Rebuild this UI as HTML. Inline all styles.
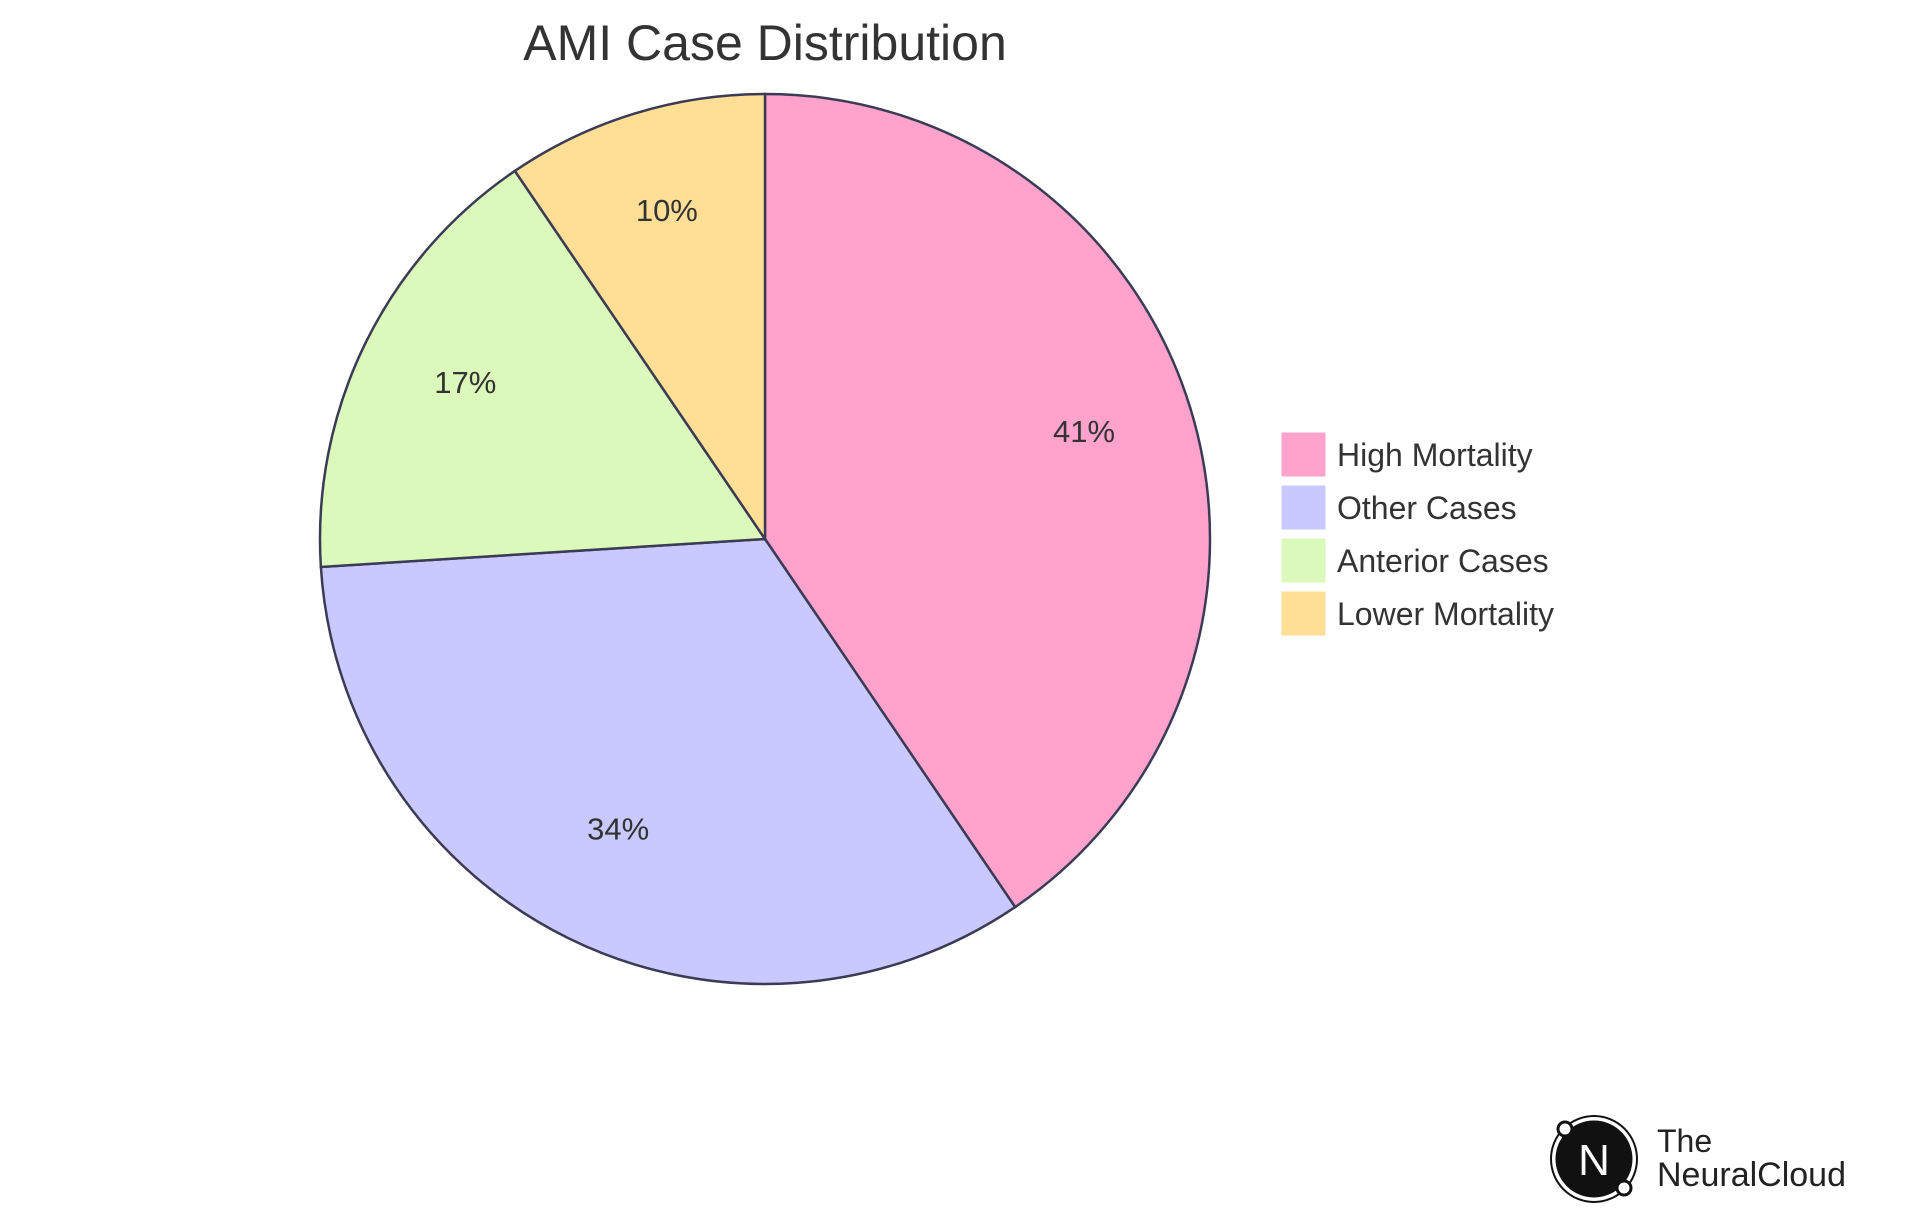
<!DOCTYPE html>
<html><head><meta charset="utf-8"><style>
html,body{margin:0;padding:0;background:#fff;}
body{width:1920px;height:1215px;overflow:hidden;font-family:"Liberation Sans",sans-serif;}
</style></head><body>
<svg id="chart" width="1920" height="1215" xmlns="http://www.w3.org/2000/svg">
<text x="765" y="60" text-anchor="middle" font-size="50" fill="#333" font-family="Liberation Sans, sans-serif">AMI Case Distribution</text>
<g id="slices"></g><g id="labels"></g><g id="legend"></g>
<g transform="translate(-15,-10)">
<circle cx="1609" cy="1169" r="40" fill="#111" stroke="#fff" stroke-width="3"/>
<circle cx="1609" cy="1169" r="43" fill="none" stroke="#111" stroke-width="2"/>
<text x="1609" y="1185" text-anchor="middle" font-size="44" fill="#fff">N</text>
<circle cx="1580" cy="1139" r="7" fill="#fff" stroke="#111" stroke-width="3"/>
<circle cx="1639" cy="1198" r="7" fill="#fff" stroke="#111" stroke-width="3"/>
<text x="1672" y="1162" font-size="32" fill="#222">The</text>
<text x="1672" y="1196" font-size="34" fill="#222">NeuralCloud</text>
</g>
</svg>
<script>
const categories=["High Mortality","Other Cases","Anterior Cases","Lower Mortality"];
const values=[40.5,33.5,16.5,9.5];
const colors=["#FFA3CD","#C9C9FF","#DBF9BA","#FFDE95"];
const NS="http://www.w3.org/2000/svg";
const cx=765,cy=539,R=445;
const total=values.reduce((a,b)=>a+b,0);
function pt(frac,r){const a=frac*2*Math.PI;return [cx+r*Math.sin(a),cy-r*Math.cos(a)];}
let acc=0;
const gs=document.getElementById('slices'),gl=document.getElementById('labels'),gg=document.getElementById('legend');
values.forEach((v,i)=>{
 const f0=acc/total,f1=(acc+v)/total;acc+=v;
 const [x0,y0]=pt(f0,R),[x1,y1]=pt(f1,R);
 const p=document.createElementNS(NS,'path');
 p.setAttribute('d',`M${cx},${cy}L${x0},${y0}A${R},${R} 0 ${f1-f0>0.5?1:0} 1 ${x1},${y1}Z`);
 p.setAttribute('fill',colors[i]);p.setAttribute('stroke','#3b3b55');p.setAttribute('stroke-width','2.5');
 
 
 gs.appendChild(p);
 const [lx,ly]=pt((f0+f1)/2,R*0.75);
 const t=document.createElementNS(NS,'text');
 t.setAttribute('x',lx);t.setAttribute('y',ly+1);t.setAttribute('text-anchor','middle');
 t.setAttribute('font-size','31');t.setAttribute('fill','#333');
 t.textContent=Math.round(v)+'%';
 
 
 gl.appendChild(t);
 const ly2=432+i*53;
 const r=document.createElementNS(NS,'rect');
 r.setAttribute('x',1281);r.setAttribute('y',ly2);r.setAttribute('width',45);r.setAttribute('height',45);
 r.setAttribute('fill',colors[i]);r.setAttribute('stroke','#fff');
 
 
 gg.appendChild(r);
 const lt=document.createElementNS(NS,'text');
 lt.setAttribute('x',1337);lt.setAttribute('y',ly2+34);lt.setAttribute('font-size','32');lt.setAttribute('fill','#333');
 lt.textContent=categories[i];
 
 
 gg.appendChild(lt);
});
</script>
</body></html>
